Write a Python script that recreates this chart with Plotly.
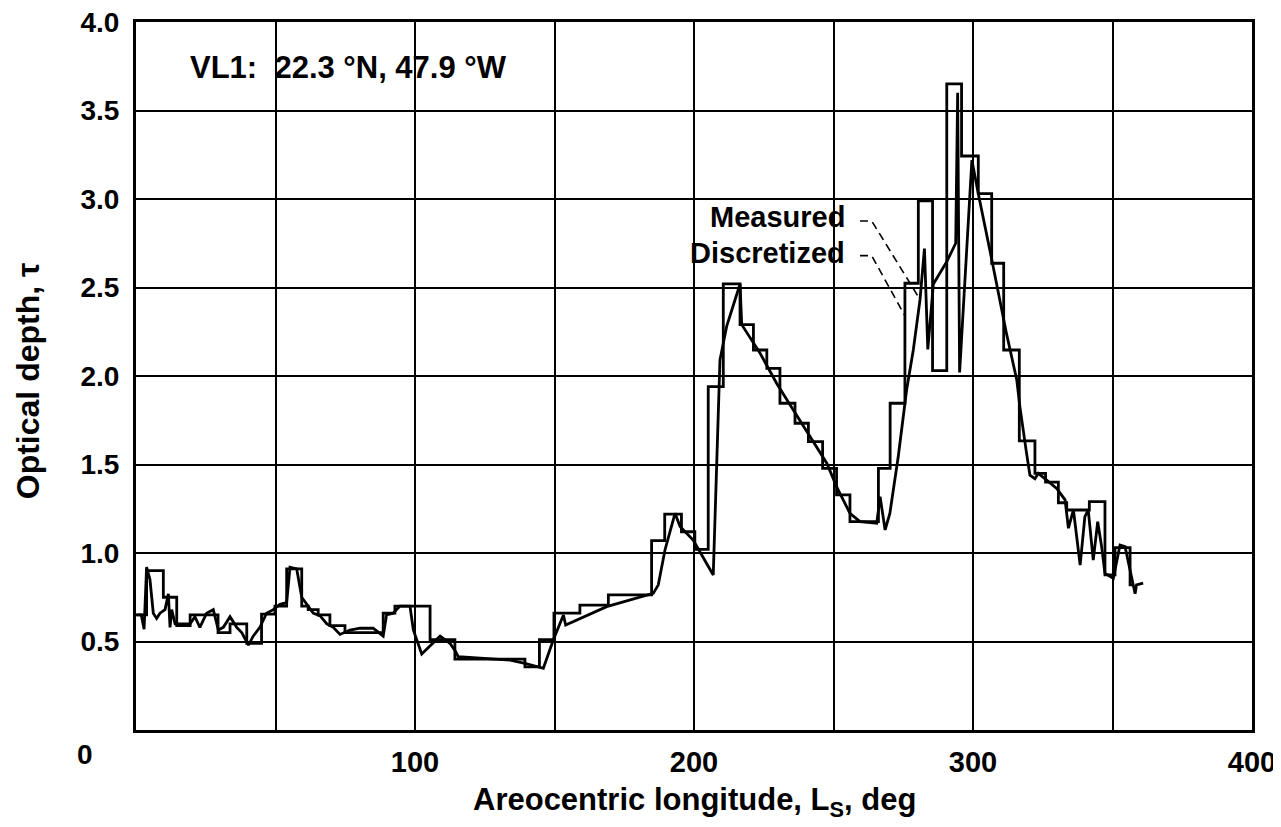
import plotly.graph_objects as go

# discretized optical depth (step values start at each x)
disc_ls = [0, 3.8, 9.8, 14.6, 19.4, 29.4, 33.7, 39.7, 45.0, 49.8, 54.0, 59.4, 61.7, 65.3,
           69.5, 74.9, 88.6, 92.8, 105.4, 114.3, 139.4, 144.6, 149.8, 159.1, 169.3, 184.8,
           189.5, 195.5, 200.3, 205.1, 210.5, 216.5, 221.3, 226.1, 230.8, 236.2, 241.0,
           246.1, 251.1, 255.9, 266.1, 270.3, 275.6, 280.4, 285.5, 290.6, 295.9, 301.9,
           306.7, 311.0, 316.6, 322.2, 326.0, 330.6, 333.6, 341.7, 347.3, 350.9, 356.3, 357.5]
disc_tau = [0.65, 0.90, 0.75, 0.59, 0.65, 0.55, 0.60, 0.49, 0.655, 0.70, 0.91, 0.70, 0.68, 0.65,
            0.59, 0.55, 0.66, 0.70, 0.51, 0.40, 0.357, 0.51, 0.66, 0.706, 0.763, 1.07,
            1.22, 1.12, 1.02, 1.94, 2.52, 2.29, 2.147, 2.043, 1.846, 1.733, 1.629,
            1.478, 1.328, 1.177, 1.478, 1.846, 2.524, 2.99, 2.03, 3.65, 3.243, 3.03,
            2.637, 2.147, 1.633, 1.45, 1.40, 1.284, 1.243, 1.29, 0.876, 1.03, 0.82, 0.82]

# measured optical depth
meas_ls = [0.2, 1.9, 2.9, 3.8, 5.0, 6.2, 7.4, 8.6, 10.4, 11.6, 12.2, 12.8, 14.0, 15.8, 19.4,
           21.1, 22.9, 25.3, 27.7, 29.5, 31.3, 33.7, 36.1, 37.9, 40.3, 42.0, 44.4, 46.8,
           49.2, 51.6, 54.0, 55.2, 57.6, 59.4, 61.2, 63.5, 66.0, 68.4, 70.7, 73.1, 76.7,
           80.3, 85.0, 88.6, 89.8, 92.2, 94.6, 98.2, 99.4, 101.2, 102.4, 109.0, 112.5,
           114.3, 115.5, 134.1, 139.4, 146.0, 149.6, 153.2, 154.0, 168.7, 185.4, 187.2,
           189.6, 193.2, 195.0, 199.7, 206.9, 209.3, 211.7, 216.5, 217.1, 223.7, 229.6,
           235.6, 241.6, 247.6, 251.1, 255.9, 259.5, 265.5, 266.7, 268.5, 270.2, 273.2,
           276.2, 278.6, 281.0, 282.6, 283.8, 285.8, 290.6, 293.8, 294.5, 295.2, 299.6,
           301.9, 306.7, 312.0, 315.7, 316.8, 319.2, 320.4, 322.2, 323.4,
           326.4, 330.0, 333.0, 334.2, 336.0, 338.4, 340.1, 341.3, 343.1, 344.7, 346.1,
           347.3, 350.3, 352.7, 354.5, 356.3, 357.5, 358.1, 358.6, 361.0]
meas_tau = [0.65, 0.65, 0.57, 0.92, 0.85, 0.66, 0.63, 0.66, 0.68, 0.77, 0.58, 0.68, 0.60, 0.60, 0.60,
            0.64, 0.58, 0.66, 0.68, 0.565, 0.58, 0.64, 0.58, 0.55, 0.48, 0.53, 0.58, 0.66,
            0.68, 0.71, 0.72, 0.92, 0.91, 0.75, 0.71, 0.66, 0.645, 0.60, 0.58, 0.54, 0.565,
            0.575, 0.575, 0.53, 0.65, 0.66, 0.70, 0.70, 0.565, 0.49, 0.43, 0.53, 0.49,
            0.45, 0.414, 0.395, 0.377, 0.349, 0.51, 0.65, 0.593, 0.697, 0.772, 0.82,
            1.017, 1.224, 1.15, 1.073, 0.876, 2.09, 2.28, 2.52, 2.29, 2.128, 1.959,
            1.808, 1.657, 1.507, 1.375, 1.224, 1.177, 1.168, 1.318, 1.13, 1.224, 1.544,
            1.921, 2.147, 2.43, 2.72, 2.15, 2.52, 2.646, 2.75, 3.6, 2.02, 3.22,
            3.03, 2.66, 2.24, 1.977, 1.827, 1.563, 1.44, 1.42, 1.45,
            1.412, 1.365, 1.30, 1.14, 1.243, 0.932, 1.205, 1.243, 0.96, 1.177, 1.036,
            0.885, 0.857, 1.045, 1.036, 0.904, 0.81, 0.77, 0.82, 0.83]

x_ticks = [100, 200, 300, 400]
x_labels = ['100', '200', '300', '400']
y_ticks = [0.5, 1.0, 1.5, 2.0, 2.5, 3.0, 3.5, 4.0]
y_labels = ['0.5', '1.0', '1.5', '2.0', '2.5', '3.0', '3.5', '4.0']

FONT = 'Liberation Sans, Arial, Helvetica, sans-serif'

fig = go.Figure()
fig.add_trace(go.Scatter(x=disc_ls, y=disc_tau, mode='lines', line_shape='hv',
                         line=dict(color='black', width=2.8), name='Discretized'))
fig.add_trace(go.Scatter(x=meas_ls, y=meas_tau, mode='lines',
                         line=dict(color='black', width=2.8), name='Measured'))

# dashed leaders from the labels to the curves
fig.add_shape(type='path', path='M 259.5 2.876 L 263.7 2.876 L 280.4 2.448',
              line=dict(color='black', width=1.6, dash='8px,5px'))
fig.add_shape(type='path', path='M 259.5 2.68 L 263.7 2.68 L 275.6 2.34',
              line=dict(color='black', width=1.6, dash='8px,5px'))

bold = dict(family=FONT, color='black', weight='bold')
fig.add_annotation(text='VL1:\u00a0 22.3 °N, 47.9 °W', xref='paper', yref='paper', x=0.0466, y=0.936,
                   xanchor='left', yanchor='middle', showarrow=False, font=dict(size=31, **bold))
fig.add_annotation(text='Measured', xref='paper', yref='paper', x=0.637, y=0.7246,
                   xanchor='right', yanchor='middle', showarrow=False, font=dict(size=29, **bold))
fig.add_annotation(text='Discretized', xref='paper', yref='paper', x=0.637, y=0.6737,
                   xanchor='right', yanchor='middle', showarrow=False, font=dict(size=29, **bold))
fig.add_annotation(text='0', xref='paper', yref='paper', x=-0.0457, y=-0.034,
                   xanchor='center', yanchor='middle', showarrow=False, font=dict(size=28, **bold))
fig.add_annotation(text='Areocentric longitude, L<sub>S</sub>, deg', xref='paper', yref='paper',
                   x=0.5, y=-0.102, xanchor='center', yanchor='middle', showarrow=False,
                   font=dict(size=31, **bold))
fig.add_annotation(text='Optical depth, τ', xref='paper', yref='paper', x=-0.0968, y=0.494,
                   xanchor='center', yanchor='middle', textangle=-90, showarrow=False,
                   font=dict(size=32, **bold))

grid = dict(showgrid=True, gridcolor='black', gridwidth=2,
            showline=True, linecolor='black', linewidth=3, mirror=True,
            ticks='', zeroline=False, automargin=False, ticklabeloverflow='allow')

# the page body has an 8px margin, so the figure is shifted by 8px
fig.update_layout(
    width=1273, height=819,
    margin=dict(l=128, r=29, t=14, b=97),
    plot_bgcolor='white', paper_bgcolor='white',
    showlegend=False,
    xaxis=dict(range=[0, 400], tickvals=x_ticks, ticktext=x_labels, ticklabelstandoff=4,
               minor=dict(dtick=50, tick0=0, showgrid=True, gridcolor='black', gridwidth=2),
               tickfont=dict(size=29, **bold), **grid),
    yaxis=dict(range=[0, 4.0], tickvals=y_ticks, ticktext=y_labels, ticklabelstandoff=8,
               tickfont=dict(size=28, **bold), **grid),
)

fig.write_html("out.html")
